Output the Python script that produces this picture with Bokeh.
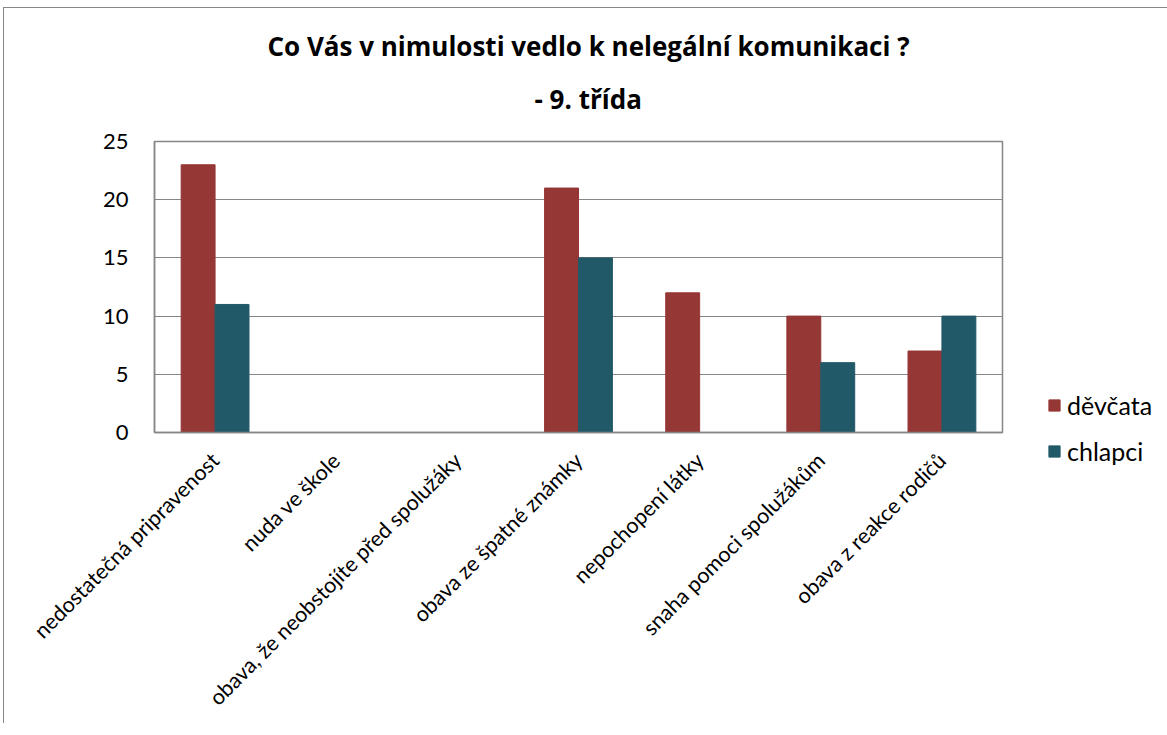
from bokeh.plotting import figure
from bokeh.models import FactorRange, Range1d, ColumnDataSource, Legend, LegendItem, Title, FixedTicker
from bokeh.transform import dodge
from bokeh.embed import file_html
from bokeh.resources import INLINE
import math

categories = ["nedostatečná pripravenost", "nuda ve škole", "obava, že neobstojíte před spolužáky",
              "obava ze špatné známky", "nepochopení látky", "snaha pomoci spolužákům", "obava z reakce rodičů"]
devcata = [23, 0, 0, 21, 12, 10, 7]
chlapci = [11, 0, 0, 15, 0, 6, 10]
series_names = ["děvčata", "chlapci"]
title_lines = ["Co Vás v nimulosti vedlo k nelegální komunikaci ?", "- 9. třída"]
y_ticks = [0, 5, 10, 15, 20, 25]

RED = "#953735"
TEAL = "#215968"
GRAY = "#868686"
FONT = "Lato"

src = ColumnDataSource(dict(cat=categories, d=devcata, c=chlapci))

p = figure(x_range=FactorRange(*categories), y_range=Range1d(0, 25),
           frame_width=848, frame_height=291, output_backend="svg", toolbar_location=None,
           min_border_left=150, min_border_right=10, min_border_top=133, min_border_bottom=291)
p.title.text = ""
p.outline_line_color = GRAY
p.outline_line_width = 1.5
p.background_fill_color = "white"
p.border_fill_color = "white"

r1 = p.vbar(x=dodge("cat", -0.14, range=p.x_range), top="d", width=0.28, source=src,
            fill_color=RED, line_color=RED)
r2 = p.vbar(x=dodge("cat", 0.14, range=p.x_range), top="c", width=0.28, source=src,
            fill_color=TEAL, line_color=TEAL)

p.xgrid.grid_line_color = None
p.ygrid.grid_line_color = GRAY
p.ygrid.grid_line_width = 1.2
p.yaxis.ticker = FixedTicker(ticks=y_ticks)
p.yaxis.axis_line_color = GRAY
p.yaxis.axis_line_width = 1.5
p.yaxis.major_tick_line_color = None
p.yaxis.minor_tick_line_color = None
p.yaxis.major_label_standoff = 20
p.yaxis.major_label_text_font = FONT
p.yaxis.major_label_text_font_size = "22px"
p.yaxis.major_label_text_color = "black"

p.xaxis.axis_line_color = GRAY
p.xaxis.axis_line_width = 1.5
p.xaxis.major_tick_line_color = None
p.xaxis.minor_tick_line_color = None
p.xaxis.major_label_orientation = math.pi / 4
p.xaxis.major_label_standoff = 18
p.xaxis.major_label_text_font = FONT
p.xaxis.major_label_text_font_size = "21.5px"
p.xaxis.major_label_text_color = "black"

legend = Legend(items=[LegendItem(label=series_names[0], renderers=[r1]),
                       LegendItem(label=series_names[1], renderers=[r2])],
                location=(45, -34), orientation="vertical",
                glyph_width=14, glyph_height=14, label_height=24, spacing=16,
                label_text_font=FONT, label_text_font_size="25px", label_text_color="black",
                border_line_color=None, background_fill_alpha=0, padding=0, margin=0,
                label_standoff=6)
p.add_layout(legend, "right")

p.add_layout(Title(text=title_lines[1], align="left", offset=380, text_font="Open Sans",
                   text_font_style="bold", text_font_size="26px", text_color="black",
                   standoff=50), "above")
p.add_layout(Title(text=title_lines[0], align="left", offset=113, text_font="Open Sans",
                   text_font_style="bold", text_font_size="26px", text_color="black",
                   standoff=-20), "above")

p.styles = {"margin-top": "7px", "margin-left": "3px",
            "border-top": "1.5px solid #868686", "border-left": "1.5px solid #868686"}

open("out.html", "w").write(file_html(p, INLINE))
